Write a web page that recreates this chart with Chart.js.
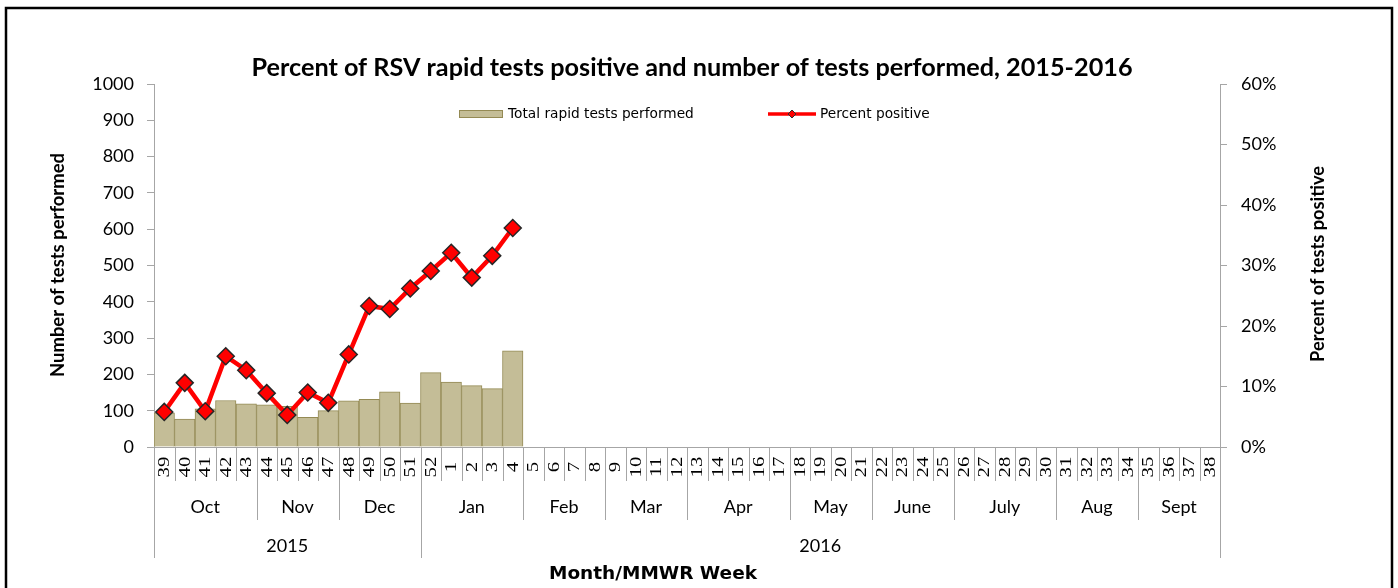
<!DOCTYPE html>
<html>
<head>
<meta charset="utf-8">
<script src="https://cdn.jsdelivr.net/npm/chart.js@4/dist/chart.umd.min.js"></script>
<style>
  html, body { margin: 0; padding: 0; background: #fff; }
  #wrap { width: 1398px; height: 588px; position: relative; }
</style>
</head>
<body>
<div id="wrap"><canvas id="c" width="1398" height="588"></canvas></div>
<script>
// ---- data ----
const weeks = ['39','40','41','42','43','44','45','46','47','48','49','50','51','52',
  '1','2','3','4','5','6','7','8','9','10','11','12','13','14','15','16','17','18','19','20',
  '21','22','23','24','25','26','27','28','29','30','31','32','33','34','35','36','37','38'];
const testsPerformed = [94, 77, 105, 128, 119, 116, 112, 82, 100, 127, 131, 152, 121, 205, 179, 169, 161, 265];
const percentPositive = [5.8, 10.6, 5.9, 15.0, 12.7, 8.9, 5.3, 9.0, 7.3, 15.3, 23.3, 22.8, 26.2, 29.1, 32.1, 28.0, 31.6, 36.2];
const months = ['Oct','Nov','Dec','Jan','Feb','Mar','Apr','May','June','July','Aug','Sept'];
const monthSpans = [5, 4, 4, 5, 4, 4, 5, 4, 4, 5, 4, 4];
const years = ['2015','2016'];
const yearSpans = [13, 39];
const titleText = 'Percent of RSV rapid tests positive and number of tests performed, 2015-2016';

const AXIS_GRAY = '#a6a6a6';
const SANS = 'Lato, "Open Sans", sans-serif';

// set a font whose size makes text span the given width
function fitFont(ctx, text, weight, family, width) {
  ctx.font = weight + ' 20px ' + family;
  const m = ctx.measureText(text).width;
  const size = 20 * width / m;
  ctx.font = weight + ' ' + size.toFixed(2) + 'px ' + family;
}

const decor = {
  id: 'decor',
  afterDraw(chart) {
    const ctx = chart.ctx;
    const x = chart.scales.x;
    const area = chart.chartArea;
    const n = weeks.length;
    const w = (x.getPixelForValue(1) - x.getPixelForValue(0));
    const edge = i => x.getPixelForValue(i) - w / 2;
    const base = area.bottom;
    const rowWeekB = base + 34, rowMonthB = base + 73, rowYearB = base + 111;
    ctx.save();
    // separators
    ctx.strokeStyle = AXIS_GRAY;
    ctx.lineWidth = 1;
    const monthStarts = new Set(); let acc = 0;
    monthSpans.forEach(s => { monthStarts.add(acc); acc += s; }); monthStarts.add(acc);
    const yearStarts = new Set(); acc = 0;
    yearSpans.forEach(s => { yearStarts.add(acc); acc += s; }); yearStarts.add(acc);
    for (let i = 0; i <= n; i++) {
      const px = Math.round(edge(i)) + 0.5;
      let bottom = rowWeekB;
      if (monthStarts.has(i)) bottom = rowMonthB;
      if (yearStarts.has(i)) bottom = rowYearB;
      ctx.beginPath(); ctx.moveTo(px, base); ctx.lineTo(px, bottom); ctx.stroke();
    }
    // week labels (rotated)
    ctx.fillStyle = '#000';
    ctx.font = '16px "Liberation Serif", serif';
    ctx.textAlign = 'center'; ctx.textBaseline = 'middle';
    for (let i = 0; i < n; i++) {
      ctx.save();
      ctx.translate(x.getPixelForValue(i) + 1, base + 20);
      ctx.rotate(-Math.PI / 2);
      ctx.scale(1.3, 1);
      ctx.fillText(weeks[i], 0, 0);
      ctx.restore();
    }
    // month labels
    ctx.font = '18px ' + SANS;
    acc = 0;
    months.forEach((m, k) => {
      const cx = (edge(acc) + edge(acc + monthSpans[k])) / 2;
      ctx.fillText(m, cx, base + 60);
      acc += monthSpans[k];
    });
    // year labels
    acc = 0;
    years.forEach((y, k) => {
      const cx = (edge(acc) + edge(acc + yearSpans[k])) / 2;
      ctx.fillText(y, cx, base + 99);
      acc += yearSpans[k];
    });
    // x title
    fitFont(ctx, 'Month/MMWR Week', 'bold', '"DejaVu Sans", sans-serif', 208);
    ctx.fillText('Month/MMWR Week', 653, 574);
    // title
    fitFont(ctx, titleText, 'bold', SANS, 881);
    ctx.fillText(titleText, 692, 68);
    // y titles
    fitFont(ctx, 'Number of tests performed', 'bold', SANS, 224);
    ctx.save(); ctx.translate(58, 265); ctx.rotate(-Math.PI / 2);
    ctx.fillText('Number of tests performed', 0, 0); ctx.restore();
    fitFont(ctx, 'Percent of tests positive', 'bold', SANS, 196);
    ctx.save(); ctx.translate(1318, 264); ctx.rotate(-Math.PI / 2);
    ctx.fillText('Percent of tests positive', 0, 0); ctx.restore();
    // legend
    ctx.fillStyle = '#C4BD97'; ctx.strokeStyle = '#948A54'; ctx.lineWidth = 1;
    ctx.fillRect(459, 110, 44, 8); ctx.strokeRect(459.5, 110.5, 43, 7);
    ctx.fillStyle = '#000'; ctx.textAlign = 'left';
    fitFont(ctx, 'Total rapid tests performed', '', '"DejaVu Sans", sans-serif', 186);
    ctx.fillText('Total rapid tests performed', 508, 114);
    ctx.strokeStyle = '#FF0000'; ctx.lineWidth = 3.5;
    ctx.beginPath(); ctx.moveTo(768, 114); ctx.lineTo(816, 114); ctx.stroke();
    ctx.fillStyle = '#FF0000'; ctx.strokeStyle = '#333'; ctx.lineWidth = 1;
    ctx.beginPath(); ctx.moveTo(792, 110); ctx.lineTo(796, 114); ctx.lineTo(792, 118); ctx.lineTo(788, 114); ctx.closePath();
    ctx.fill(); ctx.stroke();
    ctx.fillStyle = '#000';
    ctx.fillText('Percent positive', 820, 114);
    // frame
    ctx.strokeStyle = '#000'; ctx.lineWidth = 2.5;
    ctx.strokeRect(6, 8, 1386, 600);
    ctx.restore();
  }
};

new Chart(document.getElementById('c'), {
  type: 'bar',
  data: {
    labels: weeks,
    datasets: [
      {
        type: 'line',
        label: 'Percent positive',
        data: percentPositive,
        yAxisID: 'y1',
        order: 0,
        borderColor: '#FF0000',
        borderWidth: 4.5,
        tension: 0,
        pointStyle: 'rectRot',
        pointRadius: 8.5,
        pointBackgroundColor: '#FF0000',
        pointBorderColor: '#262626',
        pointBorderWidth: 1.5,
        fill: false
      },
      {
        type: 'bar',
        label: 'Total rapid tests performed',
        data: testsPerformed,
        yAxisID: 'y',
        order: 1,
        backgroundColor: '#C4BD97',
        borderColor: '#948A54',
        borderWidth: 1,
        barPercentage: 1,
        categoryPercentage: 1
      }
    ]
  },
  options: {
    responsive: false,
    animation: false,
    layout: { padding: { top: 84, left: 0, right: 0, bottom: 0 } },
    plugins: { legend: { display: false }, tooltip: { enabled: false }, title: { display: false } },
    scales: {
      x: {
        offset: true,
        grid: { display: false },
        border: { display: true, color: AXIS_GRAY, width: 1 },
        ticks: { display: false },
        afterFit: s => { s.height = 141; }
      },
      y: {
        position: 'left',
        min: 0, max: 1000,
        ticks: { stepSize: 100, color: '#000', font: { family: 'Lato', size: 18 }, padding: 13, callback: v => String(v) },
        grid: { drawOnChartArea: false, tickLength: 7, color: AXIS_GRAY },
        border: { display: true, color: AXIS_GRAY, width: 1 },
        afterFit: s => { s.width = 154; }
      },
      y1: {
        position: 'right',
        min: 0, max: 60,
        ticks: { stepSize: 10, color: '#000', font: { family: 'Lato', size: 18 }, padding: 14, callback: v => v + '%' },
        grid: { drawOnChartArea: false, tickLength: 7, color: AXIS_GRAY },
        border: { display: true, color: AXIS_GRAY, width: 1 },
        afterFit: s => { s.width = 178; }
      }
    }
  },
  plugins: [decor]
});
</script>
</body>
</html>
